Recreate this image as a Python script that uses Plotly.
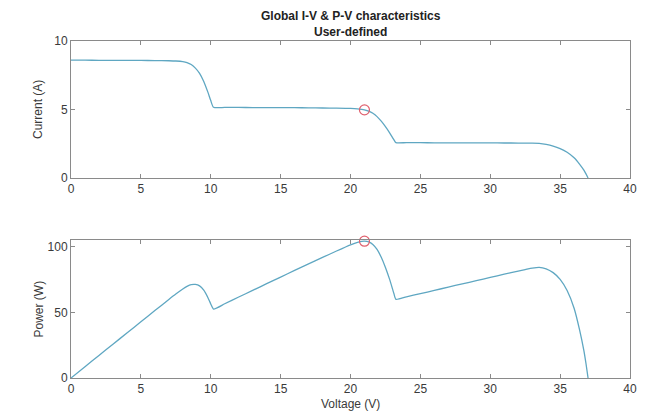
import plotly.graph_objects as go
from plotly.subplots import make_subplots

# ---- data ----
voltage = [0, 1, 2, 3, 4, 5, 6, 7, 7.5, 8, 8.3, 8.6, 8.9, 9.2, 9.5, 9.8, 10.0, 10.2,
           11, 12, 13, 14, 15, 16, 17, 18, 19, 20, 20.5, 20.8, 21.0, 21.3, 21.6, 21.9,
           22.2, 22.5, 22.8, 23.1, 23.25, 24, 25, 26, 27, 28, 29, 30, 31, 32, 32.5, 33,
           33.5, 34, 34.5, 35, 35.5, 36, 36.4, 36.7, 36.85, 37.0]
current = [8.60, 8.60, 8.59, 8.59, 8.58, 8.58, 8.57, 8.56, 8.54, 8.49, 8.42, 8.28, 8.02,
           7.64, 7.05, 6.25, 5.65, 5.16, 5.15, 5.15, 5.14, 5.14, 5.13, 5.13, 5.12, 5.11,
           5.10, 5.08, 5.05, 5.01, 4.97, 4.88, 4.72, 4.48, 4.15, 3.75, 3.30, 2.80, 2.58,
           2.58, 2.575, 2.57, 2.57, 2.565, 2.56, 2.56, 2.555, 2.55, 2.545, 2.54, 2.52,
           2.45, 2.33, 2.15, 1.88, 1.48, 1.00, 0.57, 0.30, 0.0]
power = [0, 8.6, 17.18, 25.77, 34.32, 42.9, 51.42, 59.92, 64.05, 67.92, 69.89, 71.21,
         71.38, 70.29, 66.98, 61.25, 56.5, 52.63, 56.65, 61.8, 66.82, 71.96, 76.95,
         82.08, 87.04, 91.98, 96.9, 101.6, 103.53, 104.21, 104.37, 103.94, 101.95,
         98.11, 92.13, 84.38, 75.24, 64.68, 59.99, 61.92, 64.38, 66.82, 69.39, 71.82,
         74.24, 76.8, 79.2, 81.6, 82.71, 83.82, 84.42, 83.3, 80.39, 75.25, 66.74,
         53.28, 36.4, 20.92, 11.06, 0]
mpp_voltage = [21.0]
mpp_current = [4.97]
mpp_power = [104.37]

x_ticks = [0, 5, 10, 15, 20, 25, 30, 35, 40]
i_ticks = [0, 5, 10]
p_ticks = [0, 50, 100]

LINE = "#5fa7c2"
RED = "#e0606e"
AX = "#8a8a8a"
FONT = "Liberation Sans, Arial, sans-serif"

fig = make_subplots(rows=2, cols=1, vertical_spacing=0.0)

fig.add_trace(go.Scatter(x=voltage, y=current, mode="lines", line_shape="spline",
                         line=dict(color=LINE, width=1.3, smoothing=0.6),
                         showlegend=False), row=1, col=1)
fig.add_trace(go.Scatter(x=mpp_voltage, y=mpp_current, mode="markers",
                         marker=dict(symbol="circle-open", size=10, color=RED,
                                     line=dict(width=1.2, color=RED)),
                         showlegend=False, cliponaxis=False), row=1, col=1)
fig.add_trace(go.Scatter(x=voltage, y=power, mode="lines", line_shape="spline",
                         line=dict(color=LINE, width=1.3, smoothing=0.6),
                         showlegend=False), row=2, col=1)
fig.add_trace(go.Scatter(x=mpp_voltage, y=mpp_power, mode="markers",
                         marker=dict(symbol="circle-open", size=10, color=RED,
                                     line=dict(width=1.2, color=RED)),
                         showlegend=False, cliponaxis=False), row=2, col=1)

axis_common = dict(showline=True, linecolor=AX, linewidth=1, mirror="ticks",
                   ticks="inside", ticklen=4, tickcolor=AX, tickwidth=1,
                   showgrid=False, zeroline=False,
                   tickfont=dict(family=FONT, size=12, color="#3a3a3a"))

fig.update_xaxes(range=[0, 40], tickvals=x_ticks, **axis_common)
fig.update_yaxes(row=1, col=1, range=[0, 10], tickvals=i_ticks, **axis_common)
fig.update_yaxes(row=2, col=1, range=[0, 105.3], tickvals=p_ticks, **axis_common)

fig.update_layout(
    width=640, height=406,
    margin=dict(l=63, r=18, t=33, b=36),
    paper_bgcolor="white", plot_bgcolor="white",
    yaxis=dict(domain=[0.5935, 1.0]),
    yaxis2=dict(domain=[0.0, 0.4095]),
    font=dict(family=FONT),
)

ann = [
    dict(text="<b>Global I-V &amp; P-V characteristics</b>", x=0.5, y=1.074,
         font=dict(size=12, color="#222")),
    dict(text="<b>User-defined</b>", x=0.5, y=1.026, font=dict(size=12, color="#222")),
    dict(text="Current (A)", x=-0.058, y=0.797, textangle=-90,
         font=dict(size=12, color="#3a3a3a")),
    dict(text="Power (W)", x=-0.058, y=0.205, textangle=-90,
         font=dict(size=12, color="#3a3a3a")),
    dict(text="Voltage (V)", x=0.5, y=-0.076, font=dict(size=12, color="#3a3a3a")),
]
for a in ann:
    fig.add_annotation(xref="paper", yref="paper", showarrow=False,
                       xanchor="center", yanchor="middle", **a)

fig.write_html("out.html")
